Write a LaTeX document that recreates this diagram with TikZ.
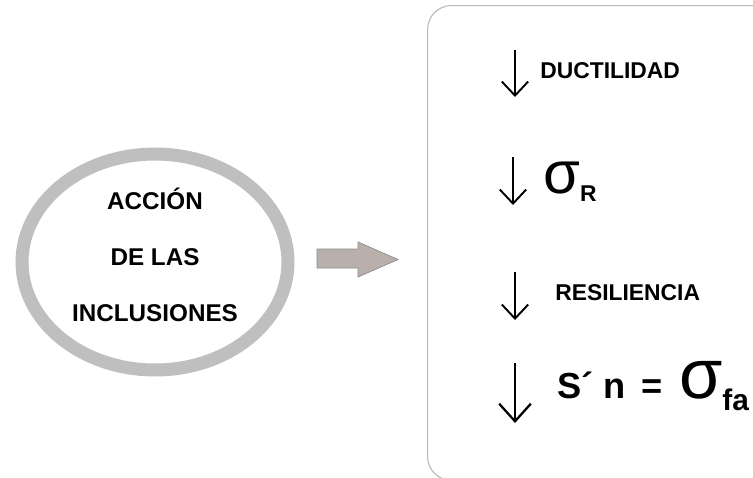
\documentclass[tikz,border=0pt]{standalone}
\usepackage{fontspec}
\setmainfont{Liberation Sans}
\usetikzlibrary{arrows.meta,positioning,shapes.geometric}
\colorlet{ring}{black!25}
\definecolor{taupe}{RGB}{186,176,171}
\colorlet{papel}{white}
\newcommand{\sig}[1]{{\fontsize{#1}{#1}\selectfont\mdseries σ}}
\tikzset{anillo/.style={ellipse, draw=ring, line width=7.4pt,
            minimum width=5.32cm, minimum height=4.32cm},
         caja/.style={draw=black!28, fill=papel, line width=0.6pt, rounded corners=0.48cm},
         rotulo/.style={font=\fontsize{13.8}{31.75}\selectfont\bfseries, align=center},
         etq/.style={font=\fontsize{13}{13}\selectfont\bfseries, inner sep=0pt, anchor=base west},
         baja/.style={line width=1.1pt, -{Straight Barb[length=8pt,width=15pt,line width=1.1pt]}}}

\begin{document}
\begin{tikzpicture}[x=0.02cm, y=-0.02cm]
 \useasboundingbox (0,0) rectangle (753,477);
 \clip (0,0) rectangle (753,477);
 % left: the ring
 \node[anillo] (accion) at (155,262) {};
 \node[rotulo] (txt) at ([yshift=4pt]accion.center) {ACCIÓN\\DE LAS\\INCLUSIONES};

 % block arrow
 \draw[fill=taupe, draw=black!45, line width=0.4pt]
   (317,249) -- (358,249) -- (358,242) -- (398,259.5) -- (358,277) -- (358,268) -- (317,268) -- cycle;

 % right: the panel
 \node[caja, minimum width=7.24cm, minimum height=9.5cm, anchor=north west] (panel) at (427,5) {};

 \node[etq] (duct) at (540,78) {DUCTILIDAD};
 \node[etq] (sigr) at (543,193) {\sig{34}\raisebox{-5pt}{\bfseries R}};
 \node[etq] (resil) at (555,300) {RESILIENCIA};
 \node[etq] (sn) at (557,398) {\fontsize{20.6}{20.6}\selectfont S´ n \,=\, \sig{40}\raisebox{-7pt}{\fontsize{17}{17}\selectfont fa}};

 \draw[baja] (515,50) -- (515,97);
 \draw[baja] (513,157) -- (513,205);
 \draw[baja] (515,272) -- (515,320);
 \draw[baja, line width=1.3pt, -{Straight Barb[length=10pt,width=18pt,line width=1.3pt]}] (515,363) -- (515,423);
\end{tikzpicture}
\end{document}
